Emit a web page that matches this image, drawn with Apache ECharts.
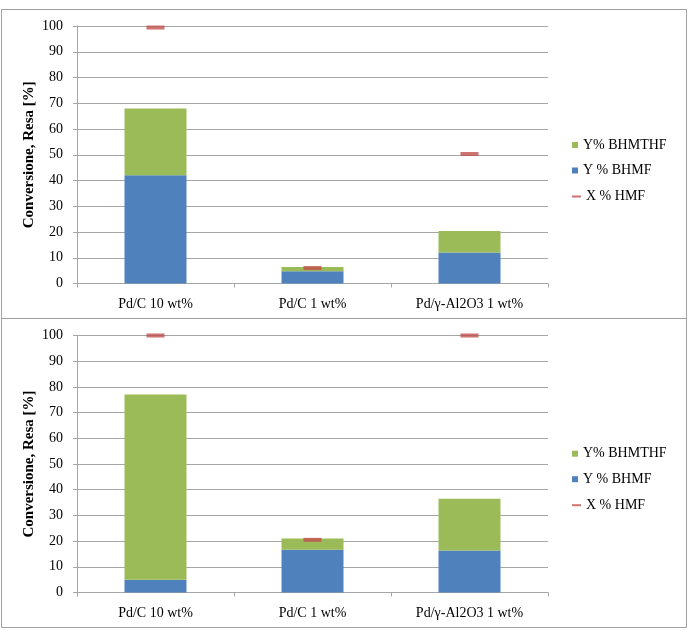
<!DOCTYPE html>
<html>
<head>
<meta charset="utf-8">
<script src="https://cdn.jsdelivr.net/npm/echarts@6/dist/echarts.min.js"></script>
<style>
html,body{margin:0;padding:0;background:#fff;}
#c{width:689px;height:635px;}
</style>
</head>
<body>
<div id="c"></div>
<script>
var categories = ['Pd/C 10 wt%', 'Pd/C 1 wt%', 'Pd/\u03b3-Al2O3 1 wt%'];
var yTicks = [0, 10, 20, 30, 40, 50, 60, 70, 80, 90, 100];
// top panel
var topBHMF = [42, 4.8, 12];
var topBHMTHF = [26, 1.6, 8.4];
var topHMF = [99.4, 6, 50.3];
// bottom panel
var botBHMF = [5, 16.6, 16.3];
var botBHMTHF = [72, 4.4, 20.2];
var botHMF = [100, 20.5, 100];

var NAME_G = 'Y% BHMTHF', NAME_B = 'Y % BHMF', NAME_R = 'X % HMF';
var GREEN = '#9BBB59', BLUE = '#4F81BD', RED = '#C0504D';
var FONT = '"Liberation Serif", "Times New Roman", serif';
var GRIDC = '#a6a6a6';

function xAx(gi) {
  return {
    type: 'category', gridIndex: gi, data: categories,
    axisLine: {lineStyle: {color: GRIDC, width: 1}},
    axisTick: {show: true, length: 4, lineStyle: {color: GRIDC}},
    axisLabel: {color: '#000', fontFamily: FONT, fontSize: 14, margin: 14}
  };
}
function yAx(gi) {
  return {
    type: 'value', gridIndex: gi, min: yTicks[0], max: yTicks[yTicks.length - 1], interval: 10,
    name: 'Conversione, Resa [%]', nameLocation: 'middle', nameGap: 40, nameMoveOverlap: false,
    nameTextStyle: {color: '#000', fontFamily: FONT, fontSize: 15, fontWeight: 'bold'},
    axisLine: {show: true, lineStyle: {color: GRIDC, width: 1}},
    axisTick: {show: true, length: 4, lineStyle: {color: GRIDC}},
    axisLabel: {color: '#000', fontFamily: FONT, fontSize: 14, margin: 14},
    splitLine: {show: true, lineStyle: {color: GRIDC, width: 1}}
  };
}
function bars(gi, b, g, r) {
  return [
    {name: NAME_B, type: 'bar', stack: 's' + gi, xAxisIndex: gi, yAxisIndex: gi, data: b,
     barWidth: 62, itemStyle: {color: BLUE}},
    {name: NAME_G, type: 'bar', stack: 's' + gi, xAxisIndex: gi, yAxisIndex: gi, data: g,
     barWidth: 62, itemStyle: {color: GREEN}},
    {name: NAME_R, type: 'scatter', xAxisIndex: gi, yAxisIndex: gi, data: r,
     symbol: 'rect', symbolSize: [18, 4], itemStyle: {color: RED}, z: 5}
  ];
}
function legends(offset) {
  var ts = {color: '#000', fontFamily: FONT, fontSize: 14, lineHeight: 14};
  return [
    {orient: 'vertical', left: 567, top: 133 + offset, itemWidth: 6, itemHeight: 6, itemGap: 11.5,
     icon: 'rect', textStyle: ts, data: [NAME_G, NAME_B], selectedMode: false},
    {orient: 'vertical', left: 567, top: 184.5 + offset, itemWidth: 9, itemHeight: 2,
     icon: 'rect', textStyle: ts, data: [NAME_R], selectedMode: false}
  ];
}

var chart = echarts.init(document.getElementById('c'), null, {renderer: 'canvas'});
chart.setOption({
  animation: false,
  backgroundColor: '#fff',
  graphic: [
    {type: 'rect', shape: {x: 1.5, y: 9.5, width: 685, height: 309}, style: {fill: 'none', stroke: '#a0a0a0', lineWidth: 1}, z: -1},
    {type: 'rect', shape: {x: 1.5, y: 318.5, width: 685, height: 309}, style: {fill: 'none', stroke: '#a0a0a0', lineWidth: 1}, z: -1}
  ],
  grid: [
    {left: 77, top: 26, width: 471, height: 257.5},
    {left: 77, top: 335.5, width: 471, height: 257}
  ],
  xAxis: [xAx(0), xAx(1)],
  yAxis: [yAx(0), yAx(1)],
  legend: legends(0).concat(legends(308.7)),
  series: bars(0, topBHMF, topBHMTHF, topHMF).concat(bars(1, botBHMF, botBHMTHF, botHMF))
});
</script>
</body>
</html>
